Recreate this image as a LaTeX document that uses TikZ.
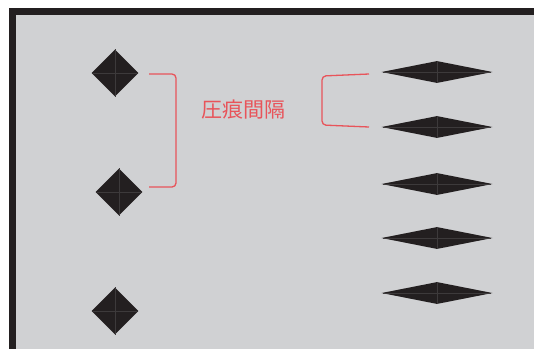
\documentclass[tikz,border=0pt]{standalone}
\usepackage{fontspec}
\newfontfamily\cjk{Noto Sans CJK JP}
\usetikzlibrary{shapes.geometric}
\definecolor{bggray}{HTML}{D0D1D3}
\definecolor{ink}{HTML}{231F20}
\definecolor{markred}{HTML}{E8545A}
\begin{document}
\begin{tikzpicture}[x=1pt,y=-1pt,
  sqmark/.style={diamond,fill=ink,draw=none,inner sep=0pt,minimum width=47pt,minimum height=47pt},
  flatmark/.style={diamond,fill=ink,draw=none,inner sep=0pt,minimum width=111pt,minimum height=22pt},
  bracket/.style={draw=markred,line width=1.3pt,rounded corners=4pt},
  label/.style={text=markred,font=\cjk\fontsize{21}{21}\selectfont,inner sep=0pt}]
\useasboundingbox (0,0) rectangle (534,349);
\fill[white] (0,0) rectangle (534,349);
\fill[bggray] (15,14) rectangle (534,349);
\fill[ink] (9,8) rectangle (534,15);
\fill[ink] (9,8) rectangle (16,349);
% square indents
\node[sqmark] (s1) at (115,73) {};
\node[sqmark] (s2) at (119,192) {};
\node[sqmark] (s3) at (115,311) {};
% flat indents
\node[flatmark] (f1) at (437,72) {};
\node[flatmark] (f2) at (437,127) {};
\node[flatmark] (f3) at (437,184) {};
\node[flatmark] (f4) at (437,238) {};
\node[flatmark] (f5) at (437,293) {};
% faint cross lines
\foreach \n in {s1,s2,s3,f1,f2,f3,f4,f5}{
  \draw[ink!88!white,line width=0.25pt,shorten <=2pt,shorten >=2pt] (\n.north) -- (\n.south) (\n.west) -- (\n.east);
}
% brackets
\coordinate (la) at (149,74);
\coordinate (lb) at (149,187);
\coordinate (ra) at (369,74);
\coordinate (rb) at (369,127);
\draw[bracket] (la) -- (176,74) -- (176,187) -- (lb);
\draw[bracket] (ra) -- (322,76) -- (322,125) -- (rb);
\node[label] (t) at (243,110) {圧痕間隔};
\end{tikzpicture}
\end{document}
